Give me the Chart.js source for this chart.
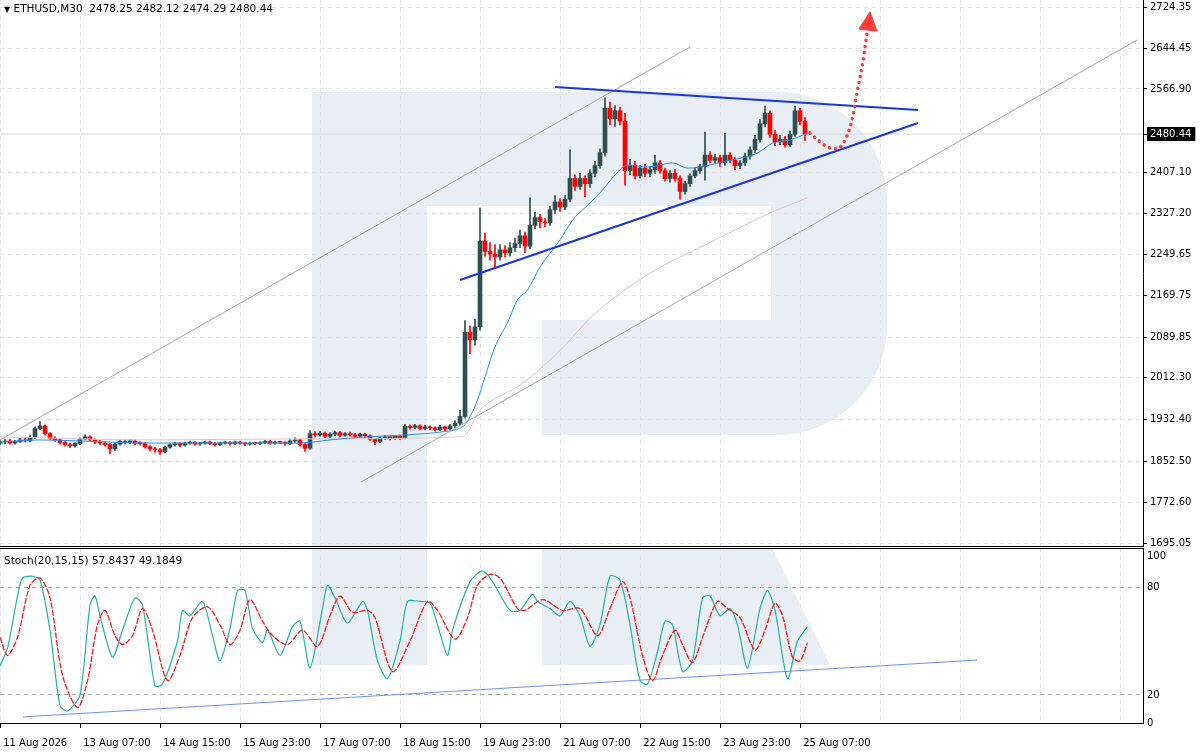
<!DOCTYPE html>
<html>
<head>
<meta charset="utf-8">
<script src="https://cdn.jsdelivr.net/npm/chart.js@4.4.1/dist/chart.umd.min.js"></script>
<style>
  body { margin: 0; background: #fff; width: 1200px; height: 756px; overflow: hidden; position: relative; font-family: "DejaVu Sans", sans-serif; }
  canvas { position: absolute; left: 0; }
  #main { top: 0; }
  #osc { top: 547px; }
  .lbl { position: absolute; font-size: 10.5px; line-height: 12px; color: #000; white-space: pre; }
</style>
</head>
<body>
<canvas id="main" width="1200" height="547"></canvas>
<canvas id="osc" width="1200" height="209"></canvas>
<div class="lbl" style="left:4px;top:2px"><span style="font-size:8px">▼</span> ETHUSD,M30  2478.25 2482.12 2474.29 2480.44</div>
<div class="lbl" style="left:4px;top:554px">Stoch(20,15,15) 57.8437 49.1849</div>

<script>
// time is counted in hours after 11 Aug 2026 00:00, candles are 2-hour bars
const barStartHour = 23;
const barHours = 2;

const candleOpen = [
  1887, 1889, 1891, 1887, 1890, 1893, 1891, 1898, 1915, 1920,
  1905, 1896, 1893, 1888, 1884, 1882, 1886, 1895, 1899, 1893,
  1889, 1887, 1884, 1876, 1885, 1890, 1888, 1891, 1887, 1886,
  1880, 1876, 1874, 1870, 1879, 1884, 1886, 1883, 1887, 1888,
  1885, 1887, 1889, 1886, 1884, 1887, 1888, 1886, 1889, 1887,
  1885, 1887, 1886, 1888, 1890, 1887, 1889, 1888, 1886, 1891,
  1893, 1884, 1877, 1905, 1903, 1906, 1900, 1904, 1907, 1902,
  1905, 1903, 1900, 1904, 1901, 1894, 1890, 1897, 1899, 1896,
  1900, 1897, 1919, 1917, 1920, 1915, 1918, 1916, 1913, 1918,
  1914, 1920, 1925, 1938, 2100, 2085, 2110, 2275, 2255, 2250,
  2245, 2258, 2252, 2262, 2270, 2285, 2265, 2305, 2320, 2312,
  2310, 2335, 2350, 2340, 2355, 2395, 2380, 2395, 2385, 2405,
  2420, 2445, 2530, 2510, 2525, 2505, 2410, 2420, 2400, 2415,
  2405, 2412, 2425, 2410, 2395, 2405, 2395, 2370, 2385, 2400,
  2410, 2418, 2440, 2430, 2435, 2425, 2440, 2430, 2420, 2425,
  2438, 2450, 2470, 2500, 2520, 2480, 2465, 2470, 2460, 2480,
  2525, 2505
];
const candleHigh = [
  1893, 1894, 1894, 1892, 1896, 1897, 1902, 1918, 1928, 1922,
  1907, 1899, 1895, 1890, 1887, 1888, 1897, 1903, 1901, 1895,
  1892, 1890, 1886, 1887, 1893, 1893, 1894, 1893, 1890, 1888,
  1882, 1879, 1877, 1881, 1886, 1889, 1888, 1889, 1891, 1890,
  1889, 1891, 1891, 1888, 1889, 1890, 1890, 1891, 1891, 1889,
  1889, 1889, 1890, 1892, 1892, 1891, 1891, 1890, 1894, 1897,
  1895, 1886, 1911, 1909, 1909, 1908, 1907, 1910, 1909, 1907,
  1908, 1905, 1906, 1906, 1903, 1896, 1899, 1902, 1901, 1902,
  1902, 1923, 1922, 1923, 1922, 1921, 1920, 1918, 1921, 1920,
  1923, 1930, 1950, 2122, 2112, 2125, 2338, 2290, 2272, 2268,
  2268, 2266, 2272, 2280, 2296, 2292, 2358, 2330, 2326, 2318,
  2342, 2362, 2356, 2362, 2450, 2402, 2405, 2400, 2412, 2428,
  2452, 2550, 2542, 2535, 2532, 2520, 2432, 2428, 2420, 2422,
  2418, 2440, 2430, 2415, 2410, 2412, 2400, 2390, 2404, 2415,
  2422, 2484, 2446, 2442, 2440, 2482, 2445, 2435, 2430, 2444,
  2456, 2478, 2508, 2534, 2525, 2488, 2478, 2476, 2486, 2534,
  2530, 2512
];
const candleLow = [
  1884, 1886, 1885, 1885, 1888, 1889, 1889, 1896, 1912, 1902,
  1894, 1890, 1885, 1881, 1878, 1879, 1884, 1893, 1891, 1886,
  1884, 1881, 1866, 1873, 1883, 1885, 1886, 1884, 1883, 1877,
  1872, 1869, 1865, 1868, 1877, 1881, 1880, 1881, 1885, 1883,
  1883, 1885, 1884, 1881, 1882, 1885, 1883, 1884, 1885, 1882,
  1883, 1884, 1884, 1886, 1885, 1885, 1886, 1883, 1884, 1888,
  1881, 1871, 1875, 1899, 1900, 1897, 1897, 1901, 1899, 1900,
  1900, 1897, 1898, 1898, 1891, 1884, 1888, 1894, 1893, 1894,
  1894, 1895, 1913, 1914, 1912, 1912, 1912, 1910, 1911, 1911,
  1912, 1917, 1922, 1935, 2058, 2075, 2104, 2246, 2238, 2222,
  2238, 2244, 2246, 2255, 2262, 2252, 2260, 2298, 2300, 2302,
  2305, 2328, 2332, 2335, 2350, 2372, 2374, 2360, 2378, 2398,
  2415, 2438, 2498, 2495, 2498, 2382, 2402, 2394, 2396, 2398,
  2398, 2405, 2405, 2390, 2388, 2390, 2355, 2365, 2380, 2396,
  2405, 2392, 2425, 2425, 2418, 2420, 2425, 2412, 2414, 2420,
  2432, 2445, 2465, 2494, 2474, 2458, 2460, 2455, 2456, 2476,
  2498, 2468
];
const candleClose = [
  1889, 1891, 1887, 1890, 1893, 1891, 1898, 1915, 1920, 1905,
  1896, 1893, 1888, 1884, 1882, 1886, 1895, 1899, 1893, 1889,
  1887, 1884, 1876, 1885, 1890, 1888, 1891, 1887, 1886, 1880,
  1876, 1874, 1870, 1879, 1884, 1886, 1883, 1887, 1888, 1885,
  1887, 1889, 1886, 1884, 1887, 1888, 1886, 1889, 1887, 1885,
  1887, 1886, 1888, 1890, 1887, 1889, 1888, 1886, 1891, 1893,
  1884, 1877, 1905, 1903, 1906, 1900, 1904, 1907, 1902, 1905,
  1903, 1900, 1904, 1901, 1894, 1890, 1897, 1899, 1896, 1900,
  1897, 1919, 1917, 1920, 1915, 1918, 1916, 1913, 1918, 1914,
  1920, 1925, 1938, 2100, 2085, 2110, 2275, 2255, 2250, 2245,
  2258, 2252, 2262, 2270, 2285, 2265, 2305, 2320, 2312, 2310,
  2335, 2350, 2340, 2355, 2395, 2380, 2395, 2385, 2405, 2420,
  2445, 2530, 2510, 2525, 2505, 2410, 2420, 2400, 2415, 2405,
  2412, 2425, 2410, 2395, 2405, 2395, 2370, 2385, 2400, 2410,
  2418, 2440, 2430, 2435, 2425, 2440, 2430, 2420, 2425, 2438,
  2450, 2470, 2500, 2520, 2480, 2465, 2470, 2460, 2480, 2525,
  2505, 2480.44
];
const lastPrice = 2480.44;

// moving averages, [hour, price]
const fastMA = [[23,1889],[39,1893],[55,1891],[83,1887],[115,1887],[143,1887],[155,1893],[167,1898],[183,1902],[199,1908],[206,1914],[209,1922],[212,1947],[214,1970],[217,2014],[221,2072],[226,2118],[230,2162],[234,2181],[239,2225],[247,2277],[252,2315],[259,2348],[264,2373],[270,2407],[274,2421],[282,2417],[292,2425],[298,2415],[303,2417],[312,2427],[326,2444],[332,2463],[339,2469],[346,2482]];
const slowMA = [[23,1899],[83,1893],[143,1895],[208,1899],[215,1950],[222,1975],[230,1995],[246,2060],[261,2136],[273,2181],[285,2219],[301,2258],[317,2296],[331,2329],[346,2358]];

// drawn lines, [hour, price]
const channelUpper = [[23,1893],[299,2647.5]];
const channelLower = [[167.4,1812.2],[477.8,2661]];
const triangleTop = [[245,2570.7],[390.2,2526.6]];
const triangleBottom = [[207,2200.1],[390.2,2501.6]];
const forecastPath = [[347,2482],[353.8,2456],[357.8,2452],[361,2469],[363.8,2507],[365.8,2559],[367.8,2609],[369.8,2674]];
const forecastHead = [[371,2715],[366.6,2682],[373.8,2678],[371,2715]];

// stochastic, [hour, value]
const stochK = [[23,36],[26,46],[30,75],[32,85],[36,86],[39,84],[43,56],[47,14],[50,11],[55,20],[59,70],[61,75],[63,64],[68,41],[72,56],[77,74],[80,70],[85,25],[88,26],[94,50],[96,67],[99,64],[104,72],[108,53],[111,39],[115,57],[118,78],[121,78],[124,57],[128,49],[130,56],[135,42],[140,58],[143,61],[147,35],[152,68],[154,81],[157,74],[162,60],[168,72],[170,67],[174,39],[178,29],[183,50],[186,72],[191,72],[195,71],[198,59],[202,42],[204,56],[211,83],[216,89],[220,83],[227,67],[231,67],[236,76],[238,72],[243,68],[247,64],[251,72],[255,64],[259,47],[263,59],[267,86],[271,84],[275,59],[279,28],[282,26],[286,44],[289,61],[292,59],[296,33],[300,39],[304,74],[307,75],[311,64],[315,68],[318,59],[322,35],[327,68],[330,78],[333,67],[338,29],[342,50],[346,58]];
const stochD = [[23,52],[26,42],[30,52],[35,81],[39,85],[43,74],[48,31],[54,13],[58,28],[62,59],[65,67],[69,53],[72,48],[76,53],[80,68],[84,56],[90,28],[95,42],[100,63],[106,69],[111,59],[115,48],[119,56],[123,73],[128,61],[132,53],[138,48],[144,56],[150,47],[155,64],[159,75],[164,66],[170,67],[173,63],[180,33],[187,50],[194,72],[198,67],[205,51],[210,63],[214,81],[219,87],[223,85],[230,68],[233,67],[240,73],[248,67],[255,68],[262,53],[267,68],[272,83],[275,74],[280,42],[284,28],[288,42],[293,56],[296,48],[300,38],[304,52],[310,72],[314,68],[319,63],[325,45],[329,56],[333,71],[336,64],[340,41],[343,39],[346,49]];
const stochTrend = [[32.2,7.8],[413.8,39.4]];

// axes
const priceTicks = [2724.35, 2644.45, 2566.90, 2480.44, 2407.10, 2327.20, 2249.65, 2169.75, 2089.85, 2012.30, 1932.40, 1852.50, 1772.60, 1695.05];
const stochLevels = [100, 80, 20, 0];
const tickHours = [23, 55, 87, 119, 151, 183, 215, 247, 279, 311, 343, 375, 407, 439, 471];
const tickLabels = ['11 Aug 2026', '13 Aug 07:00', '14 Aug 15:00', '15 Aug 23:00', '17 Aug 07:00', '18 Aug 15:00', '19 Aug 23:00', '21 Aug 07:00', '22 Aug 15:00', '23 Aug 23:00', '25 Aug 07:00', '', '', '', ''];

Chart.defaults.font.family = '"DejaVu Sans", sans-serif';
Chart.defaults.font.size = 10;
Chart.defaults.color = '#000';

const X_MIN = 23, X_MAX = 480.2;
const BULL = '#2f4f4f', BEAR = '#ff0000', NONE = 'rgba(0,0,0,0)';
const hourOf = i => barStartHour + i * barHours;
const candleColor = c => candleClose[c.dataIndex] >= candleOpen[c.dataIndex] ? BULL : BEAR;

function noPad(s) { s.paddingLeft = s.paddingRight = s.paddingTop = s.paddingBottom = 0; }

function timeAxis(withLabels) {
  return {
    type: 'linear', min: X_MIN, max: X_MAX, offset: false,
    afterBuildTicks: s => { s.ticks = tickHours.map(v => ({ value: v })); },
    afterFit: s => { s.height = withLabels ? 33 : 1; noPad(s); },
    ticks: {
      display: withLabels, autoSkip: false, maxRotation: 0, minRotation: 0,
      align: 'start', padding: 9,
      callback: (v, i) => tickLabels[i] ? ' ' + tickLabels[i] : ''
    },
    grid: {
      offset: false, color: '#e4e4e4', lineWidth: 1,
      drawTicks: withLabels, tickLength: 5, tickWidth: 1, tickBorderDash: [],
      tickColor: c => tickLabels[c.index] ? '#000' : NONE
    },
    border: { color: '#000', width: 1, dash: [4, 4] }
  };
}

function line(pairs, color, width, extra) {
  return Object.assign({
    type: 'line',
    data: pairs.map(p => ({ x: p[0], y: p[1] })),
    borderColor: color, borderWidth: width,
    pointRadius: 0, fill: false, tension: 0
  }, extra || {});
}

// light "R" watermark behind the grid
const logo = {
  id: 'logo',
  beforeDraw(chart, args, opts) {
    const { ctx, chartArea: a } = chart;
    ctx.save();
    ctx.beginPath();
    ctx.rect(a.left, a.top, a.right - a.left, a.bottom - a.top);
    ctx.clip();
    ctx.translate(0, -opts.top);
    ctx.fillStyle = '#e9eef5';
    ctx.beginPath();
    if (opts.part === 'upper') {
      ctx.moveTo(312, 92);
      ctx.lineTo(777, 92);
      ctx.arc(777, 202, 110, -Math.PI / 2, 0);
      ctx.lineTo(887, 325);
      ctx.arc(777, 325, 110, 0, Math.PI / 2);
      ctx.lineTo(542, 435);
      ctx.lineTo(542, 320);
      ctx.lineTo(771, 320);
      ctx.lineTo(771, 206);
      ctx.lineTo(427, 206);
      ctx.lineTo(427, 700);
      ctx.lineTo(312, 700);
      ctx.closePath();
    } else {
      ctx.rect(312, 540, 115, 125);
      ctx.moveTo(542, 540);
      ctx.lineTo(768, 540);
      ctx.lineTo(830, 665);
      ctx.lineTo(542, 665);
      ctx.closePath();
    }
    ctx.fill();
    ctx.restore();
  }
};

const frameTop = {
  id: 'frameTop',
  afterDraw(chart) {
    const { ctx, chartArea: a } = chart;
    ctx.save();
    ctx.strokeStyle = '#000';
    ctx.lineWidth = 1;
    ctx.beginPath();
    ctx.moveTo(0, a.top + 0.5);
    ctx.lineTo(a.right, a.top + 0.5);
    ctx.stroke();
    ctx.restore();
  }
};

new Chart(document.getElementById('main'), {
  type: 'bar',
  data: {
    datasets: [
      line([[X_MIN, lastPrice], [X_MAX, lastPrice]], '#dcdcdc', 1, { order: 9 }),
      {
        type: 'bar', order: 8, grouped: false, barThickness: 1,
        data: candleClose.map((c, i) => ({ x: hourOf(i), y: [candleLow[i], candleHigh[i]] })),
        backgroundColor: candleColor
      },
      {
        type: 'bar', order: 7, grouped: false, barThickness: 4, minBarLength: 1,
        data: candleClose.map((c, i) => ({ x: hourOf(i), y: [candleOpen[i], c] })),
        backgroundColor: candleColor
      },
      line(slowMA, '#e2c6c6', 1, { order: 6, cubicInterpolationMode: 'monotone' }),
      line(fastMA, '#1e90ff', 1, { order: 5, cubicInterpolationMode: 'monotone' }),
      line(channelUpper, '#a8a8a8', 1, { order: 4 }),
      line(channelLower, '#a8a8a8', 1, { order: 4 }),
      line(triangleTop, '#1a35e0', 2, { order: 3 }),
      line(triangleBottom, '#1a35e0', 2, { order: 3 }),
      line(forecastPath, '#ff3c3c', 3.5, { order: 1, borderDash: [0.1, 6], borderCapStyle: 'round', cubicInterpolationMode: 'monotone' }),
      line(forecastHead, '#ff3c3c', 1, { order: 0, fill: 'shape', backgroundColor: '#ff3c3c' })
    ]
  },
  options: {
    responsive: false, animation: false, devicePixelRatio: 1, events: [],
    layout: { padding: 0 },
    plugins: { legend: { display: false }, tooltip: { enabled: false }, logo: { part: 'upper', top: 0 } },
    scales: {
      x: timeAxis(false),
      y: {
        position: 'right', min: 1689.3, max: 2737.8,
        afterBuildTicks: s => { s.ticks = priceTicks.map(v => ({ value: v })); },
        afterFit: s => { s.width = 57; noPad(s); },
        ticks: {
          autoSkip: false, padding: 3,
          color: c => c.tick.value === lastPrice ? '#fff' : '#000',
          showLabelBackdrop: true,
          backdropColor: c => c.tick.value === lastPrice ? '#000' : NONE,
          backdropPadding: { top: 1, bottom: 1, left: 3, right: 4 },
          callback: v => v.toFixed(2)
        },
        grid: {
          color: c => c.tick.value === lastPrice ? NONE : '#e4e4e4',
          tickLength: 4, tickColor: '#000', tickBorderDash: []
        },
        border: { color: '#000', width: 1, dash: [4, 4] }
      }
    }
  },
  plugins: [logo]
});

const S_MIN = 4.4, S_MAX = 101.7;

new Chart(document.getElementById('osc'), {
  type: 'line',
  data: {
    datasets: [
      line(stochTrend, '#6f8ff2', 1, { order: 2 }),
      line(stochK, '#20b2aa', 1.2, { order: 1, tension: 0.25 }),
      line(stochD, '#ff1a1a', 1.3, { order: 0, borderDash: [6, 1.5], tension: 0.3 })
    ]
  },
  options: {
    responsive: false, animation: false, devicePixelRatio: 1, events: [],
    layout: { padding: { top: 1 } },
    plugins: { legend: { display: false }, tooltip: { enabled: false }, logo: { part: 'lower', top: 547 } },
    scales: {
      x: timeAxis(true),
      y: {
        position: 'right', min: S_MIN, max: S_MAX,
        afterBuildTicks: s => { s.ticks = stochLevels.map(v => ({ value: Math.min(Math.max(v, S_MIN), S_MAX - 4.5) })); },
        afterFit: s => { s.width = 57; noPad(s); },
        ticks: { autoSkip: false, padding: 4, callback: (v, i) => String(stochLevels[i]) },
        grid: {
          drawTicks: false,
          color: c => (c.index === 1 || c.index === 2) ? '#a9a9a9' : NONE
        },
        border: { color: '#000', width: 1, dash: [4, 4] }
      }
    }
  },
  plugins: [logo, frameTop]
});
</script>
</body>
</html>
